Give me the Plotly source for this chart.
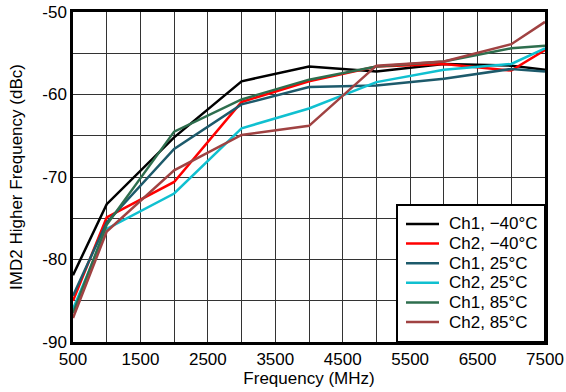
import plotly.graph_objects as go

freq = [500, 1000, 2000, 3000, 4000, 5000, 6000, 7000, 7500]

ch1_m40 = [-81.9, -73.3, -65.2, -58.4, -56.6, -57.2, -56.3, -56.5, -57.0]
ch2_m40 = [-85.0, -74.9, -70.6, -60.9, -58.4, -56.6, -56.3, -57.1, -54.6]
ch1_25 = [-84.4, -75.5, -66.6, -61.2, -59.1, -58.9, -58.1, -56.9, -57.2]
ch2_25 = [-86.0, -76.3, -72.0, -64.1, -61.7, -58.5, -57.0, -56.3, -54.4]
ch1_85 = [-86.5, -75.8, -64.5, -60.6, -58.2, -56.6, -56.0, -54.4, -54.1]
ch2_85 = [-87.1, -76.6, -69.2, -64.9, -63.8, -56.5, -56.0, -53.9, -51.2]

series_names = ["Ch1, \u221240\u00b0C", "Ch2, \u221240\u00b0C", "Ch1, 25\u00b0C",
                "Ch2, 25\u00b0C", "Ch1, 85\u00b0C", "Ch2, 85\u00b0C"]
series_values = [ch1_m40, ch2_m40, ch1_25, ch2_25, ch1_85, ch2_85]
colors = ["#000000", "#ff0000", "#1d5a6b", "#10c0d0", "#2e6e4e", "#a04242"]

x_ticks = [500, 1500, 2500, 3500, 4500, 5500, 6500, 7500]
y_ticks = [-50, -60, -70, -80, -90]
y_ticktext = ["-50", "-60", "-70", "-80", "-90"]

FONT = "Liberation Sans, Arial, sans-serif"
W, H = 566, 392
ML, MR, MT, MB = 73, 21, 12, 50
PW = W - ML - MR
PH = H - MT - MB


def fx(px):
    return (px - ML) / PW


def fy(py):
    return (H - MB - py) / PH


fig = go.Figure()
for name, vals, col in zip(series_names, series_values, colors):
    fig.add_trace(go.Scatter(x=freq, y=vals, mode="lines", name=name,
                             line=dict(color=col, width=2.5), showlegend=False))

# Legend box (drawn in paper coordinates so that row spacing matches the original)
shapes = [dict(type="rect", xref="paper", yref="paper",
               x0=fx(397), x1=1, y0=0, y1=fy(205),
               fillcolor="white", line=dict(color="black", width=2), layer="above")]
annotations = []
row0, dy = 224, 19.6
for i, (name, col) in enumerate(zip(series_names, colors)):
    yy = fy(row0 + i * dy)
    shapes.append(dict(type="line", xref="paper", yref="paper",
                       x0=fx(406), x1=fx(439), y0=yy, y1=yy,
                       line=dict(color=col, width=2.5), layer="above"))
    annotations.append(dict(xref="paper", yref="paper", x=fx(447), y=yy,
                            text=name, showarrow=False, xanchor="left",
                            yanchor="middle",
                            font=dict(family=FONT, size=17, color="black")))

fig.update_layout(
    width=W, height=H,
    margin=dict(l=ML, r=MR, t=MT, b=MB),
    paper_bgcolor="white", plot_bgcolor="white",
    font=dict(family=FONT, size=17, color="black"),
    showlegend=False,
    shapes=shapes, annotations=annotations,
)
fig.update_xaxes(
    range=[500, 7500], tickvals=x_ticks, ticks="", showgrid=True,
    gridcolor="#333333", gridwidth=1,
    minor=dict(tick0=500, dtick=500, showgrid=True, gridcolor="#333333", gridwidth=1),
    showline=True, linecolor="black", linewidth=2.5, mirror=True,
    zeroline=False, automargin=False,
    title=dict(text="Frequency (MHz)", standoff=0, font=dict(size=17)),
    tickfont=dict(size=17),
)
fig.update_yaxes(
    range=[-90, -50], tickvals=y_ticks, ticktext=y_ticktext, ticks="",
    showgrid=True, gridcolor="#333333", gridwidth=1,
    minor=dict(tick0=-90, dtick=5, showgrid=True, gridcolor="#333333", gridwidth=1),
    showline=True, linecolor="black", linewidth=2.5, mirror=True,
    zeroline=False, automargin=False,
    title=dict(text="IMD2 Higher Frequency (dBc)", standoff=16, font=dict(size=17)),
    tickfont=dict(size=17),
)

fig.write_html("out.html", config={"displayModeBar": False},
               post_script="document.body.style.margin='0';document.body.style.overflow='hidden';")
